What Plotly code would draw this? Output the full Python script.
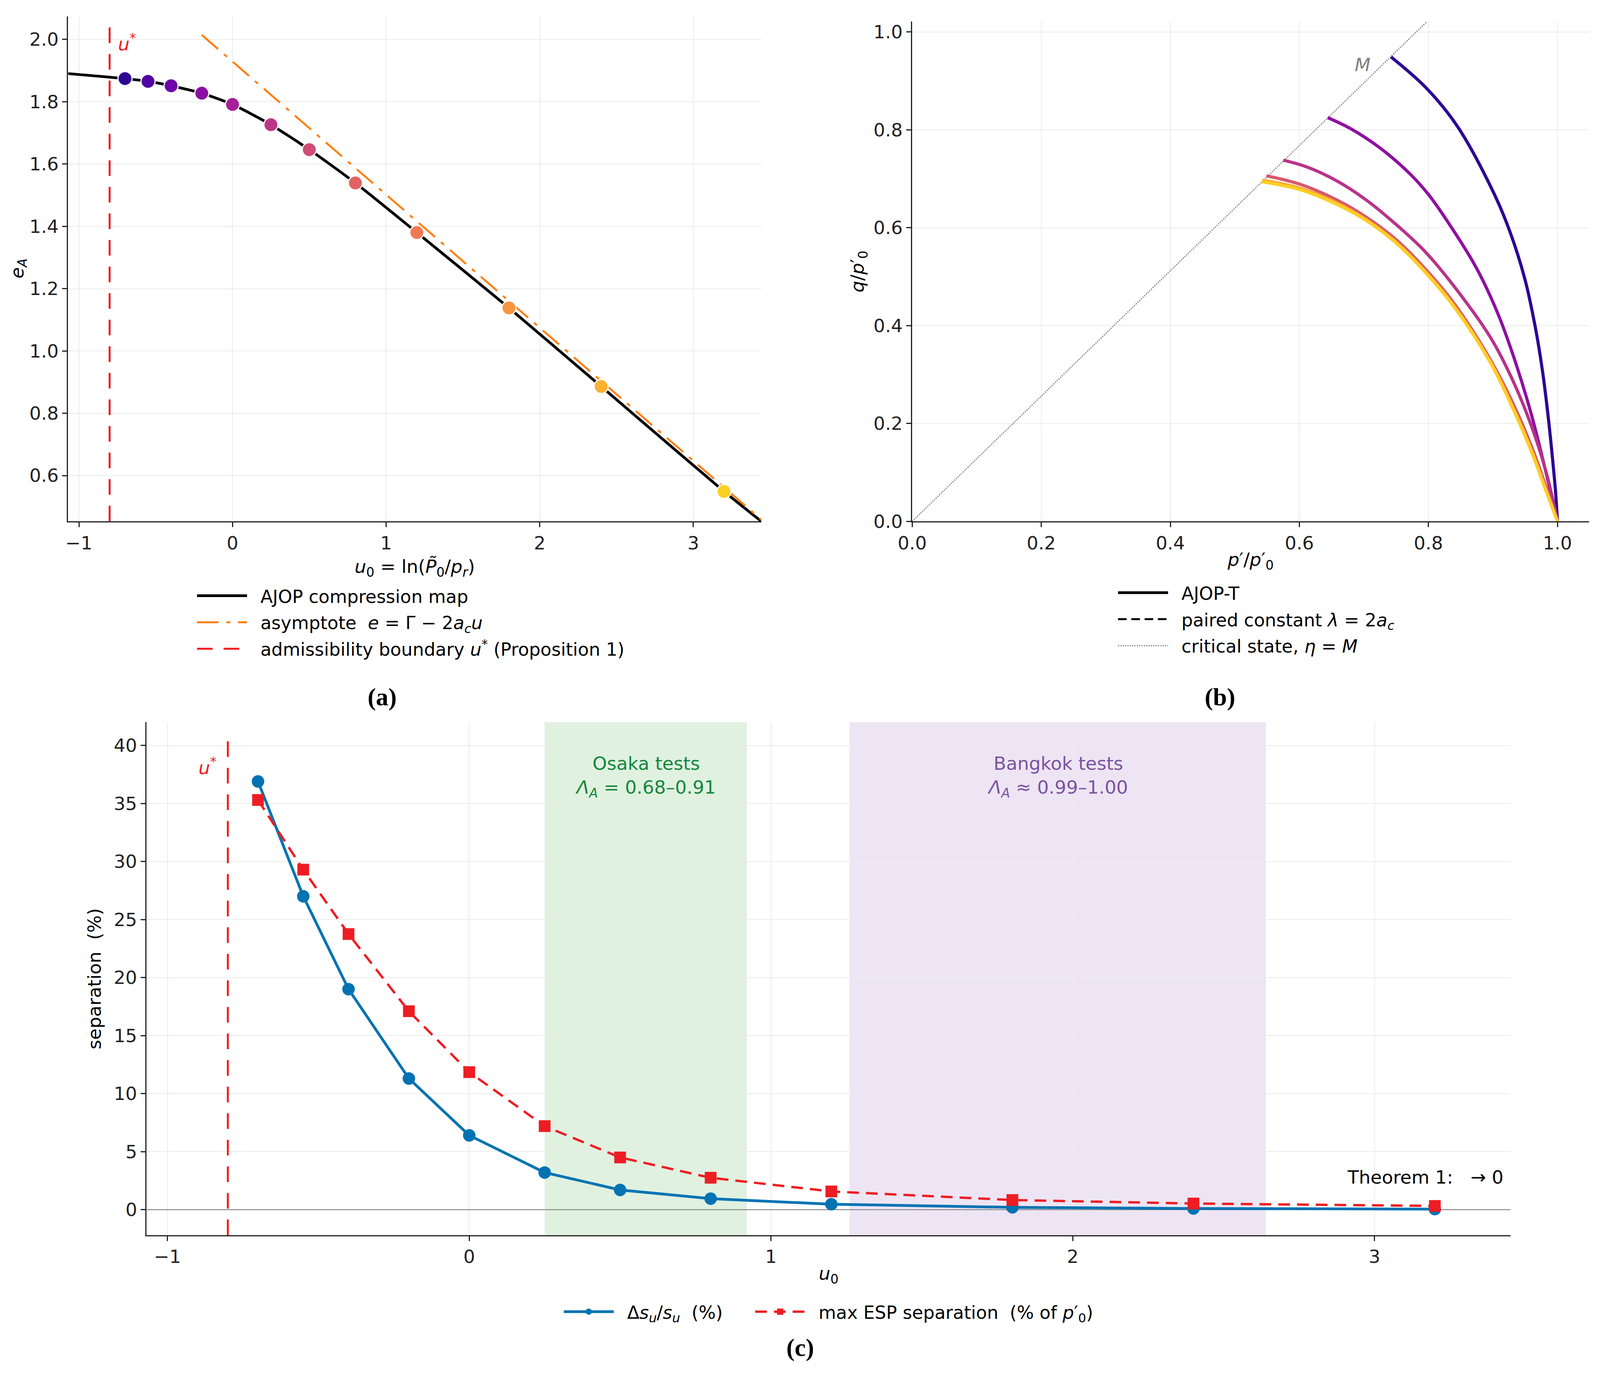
import numpy as np
import plotly.graph_objects as go
from plotly.colors import sample_colorscale

FONT = "DejaVu Sans"
W, H = 4168, 3570

# (a) compression map
U0 = [-0.7, -0.55, -0.4, -0.2, 0.0, 0.25, 0.5, 0.8, 1.2, 1.8, 2.4, 3.2]
E_A = [1.874, 1.865, 1.851, 1.827, 1.791, 1.726, 1.646, 1.539, 1.380, 1.138, 0.886, 0.549]
MAP_U = [-1.07] + U0 + [3.443]
MAP_E = [1.890] + E_A + [0.453]
ASYM_U = [-0.2, 3.5]
ASYM_E = [2.014, 0.434]
U_STAR = -0.8

# (b) stress paths and their colour levels on the plasma scale
CSL_P = [0.0, 0.8]
CSL_Q = [0.0, 1.024]
PATH_LEVEL = [0.06, 0.30, 0.43, 0.56, 0.80, 0.90]
GRID_P = [0.6007, 0.6576, 0.7032, 0.7487, 0.7943, 0.8399, 0.897, 0.9311, 0.9607, 0.9834, 1.0]
PATH_P = [
    [0.742, 0.797, 0.845, 0.9014, 0.9266, 0.9493, 0.9652, 0.9766, 0.9857, 0.9925, 0.997, 1.0],
    [0.644, 0.680, 0.726, 0.7715, 0.800, 0.8285, 0.8743, 0.9084, 0.9357, 0.9607, 0.9811, 1.0],
    [0.575, 0.612, 0.6576, 0.7032, 0.7487, 0.7943, 0.8399, 0.897, 0.9311, 0.9607, 0.9834, 1.0],
    [0.549] + GRID_P,
    [0.5426] + GRID_P,
    [0.541] + GRID_P,
]
PATH_Q = [
    [0.949, 0.885, 0.807, 0.6706, 0.591, 0.496, 0.400, 0.309, 0.213, 0.126, 0.061, 0.0],
    [0.825, 0.802, 0.762, 0.710, 0.668, 0.615, 0.518, 0.422, 0.322, 0.213, 0.106, 0.0],
    [0.738, 0.724, 0.696, 0.657, 0.608, 0.552, 0.480, 0.374, 0.287, 0.191, 0.096, 0.0],
    [0.706, 0.689, 0.657, 0.622, 0.577, 0.517, 0.445, 0.328, 0.241, 0.150, 0.066, 0.0],
    [0.697, 0.681, 0.651, 0.617, 0.572, 0.512, 0.440, 0.324, 0.233, 0.142, 0.060, 0.0],
    [0.694, 0.678, 0.648, 0.615, 0.570, 0.510, 0.438, 0.322, 0.230, 0.139, 0.058, 0.0],
]

# (c) separation vs u0
DSU = [36.9, 27.0, 19.0, 11.3, 6.4, 3.2, 1.7, 0.95, 0.47, 0.2, 0.1, 0.05]
ESP = [35.3, 29.3, 23.75, 17.1, 11.85, 7.2, 4.5, 2.75, 1.57, 0.83, 0.53, 0.32]
OSAKA = [0.25, 0.92]
BANGKOK = [1.26, 2.64]

DOT_COLORS = sample_colorscale("Plasma", list(np.linspace(0.06, 0.90, len(U0))))
PATH_COLORS = sample_colorscale("Plasma", PATH_LEVEL)
RED = "#ee1d23"
BLUE = "#0173b2"
NB = "\u00a0"


# page positions are given as pixels of a 1568 x 1343 sketch of the figure
def px(xd):
    return (xd - 1.2) / 1.0186 / 1568


def py(yd):
    return 1 - (yd - 1.8) / 1.0186 / 1343


fig = go.Figure()

# ---- panel a ----
fig.add_trace(go.Scatter(
    x=MAP_U, y=MAP_E, mode="lines", name=NB * 2 + "AJOP compression map",
    line=dict(color="black", width=7, shape="spline", smoothing=0.6),
    xaxis="x", yaxis="y", legend="legend", legendgroup="a1"))
fig.add_trace(go.Scatter(
    x=ASYM_U, y=ASYM_E, mode="lines",
    name=NB * 2 + "asymptote" + NB * 2 + "<i>e</i> = Γ − 2<i>a</i><sub><i>c</i></sub><i>u</i>",
    line=dict(color="#ff7f0e", width=5, dash="55px,20px,10px,20px"),
    xaxis="x", yaxis="y", legend="legend", legendgroup="a2"))
fig.add_trace(go.Scatter(
    x=[None], y=[None], mode="lines",
    name=NB * 2 + "admissibility boundary <i>u</i><sup>*</sup> (Proposition 1)",
    line=dict(color=RED, width=5, dash="40px,28px"),
    xaxis="x", yaxis="y", legend="legend", legendgroup="a3"))
fig.add_trace(go.Scatter(
    x=U0, y=E_A, mode="markers", showlegend=False,
    marker=dict(color=DOT_COLORS, size=36, line=dict(color="white", width=3)),
    xaxis="x", yaxis="y"))

# ---- panel b ----
fig.add_trace(go.Scatter(
    x=[None], y=[None], mode="lines", name=NB * 2 + "AJOP-T",
    line=dict(color="black", width=7), xaxis="x2", yaxis="y2",
    legend="legend2", legendgroup="b1"))
fig.add_trace(go.Scatter(
    x=[None], y=[None], mode="lines",
    name=NB * 2 + "paired constant <i>λ</i> = 2<i>a</i><sub><i>c</i></sub>",
    line=dict(color="black", width=5, dash="22px,12px"),
    xaxis="x2", yaxis="y2", legend="legend2", legendgroup="b2"))
fig.add_trace(go.Scatter(
    x=CSL_P, y=CSL_Q, mode="lines", name=NB * 2 + "critical state, <i>η</i> = <i>M</i>",
    line=dict(color="#808080", width=3, dash="dot"),
    xaxis="x2", yaxis="y2", legend="legend2", legendgroup="b3"))
for k in range(len(PATH_P)):
    fig.add_trace(go.Scatter(
        x=PATH_P[k], y=PATH_Q[k], mode="lines", showlegend=False,
        line=dict(color=PATH_COLORS[k], width=8, shape="spline", smoothing=1.0),
        xaxis="x2", yaxis="y2"))

# ---- panel c ----
fig.add_trace(go.Scatter(
    x=U0, y=DSU, mode="lines+markers",
    name=NB * 2 + "Δ<i>s</i><sub><i>u</i></sub>/<i>s</i><sub><i>u</i></sub>" + NB * 2 + "(%)" + NB * 5,
    line=dict(color=BLUE, width=7), marker=dict(symbol="circle", size=32, color=BLUE),
    xaxis="x3", yaxis="y3", legend="legend3"))
fig.add_trace(go.Scatter(
    x=U0, y=ESP, mode="lines+markers",
    name=NB * 2 + "max ESP separation" + NB * 2 + "(% of <i>p</i>′<sub>0</sub>)",
    line=dict(color=RED, width=6, dash="30px,18px"),
    marker=dict(symbol="square", size=30, color=RED),
    xaxis="x3", yaxis="y3", legend="legend3"))

# bands, reference lines
fig.add_shape(type="rect", x0=OSAKA[0], x1=OSAKA[1], y0=0, y1=1,
              xref="x3", yref="y3 domain", fillcolor="rgba(44,160,44,0.15)",
              line_width=0, layer="below")
fig.add_shape(type="rect", x0=BANGKOK[0], x1=BANGKOK[1], y0=0, y1=1,
              xref="x3", yref="y3 domain", fillcolor="rgba(148,103,189,0.17)",
              line_width=0, layer="below")
fig.add_shape(type="line", xref="x3", yref="y3", x0=-1.069, x1=3.451, y0=0, y1=0,
              line=dict(color="#8c8c8c", width=2.5), layer="between")
for xr, yr in [("x", "y domain"), ("x3", "y3 domain")]:
    fig.add_shape(type="line", xref=xr, yref=yr, x0=U_STAR, x1=U_STAR, y0=0, y1=0.98,
                  line=dict(color=RED, width=5, dash="40px,28px"))

ann_font = dict(family=FONT, size=47)
fig.add_annotation(x=U_STAR + 0.05, y=1.99, xref="x", yref="y", text="<i>u</i><sup>*</sup>",
                   showarrow=False, xanchor="left", yanchor="middle",
                   font=dict(ann_font, color=RED))
fig.add_annotation(x=U_STAR - 0.035, y=38.2, xref="x3", yref="y3", text="<i>u</i><sup>*</sup>",
                   showarrow=False, xanchor="right", yanchor="middle",
                   font=dict(ann_font, color=RED))
fig.add_annotation(x=0.698, y=0.933, xref="x2", yref="y2", text="<i>M</i>",
                   showarrow=False, font=dict(ann_font, color="#808080"))
fig.add_annotation(x=sum(OSAKA) / 2, y=39.45, xref="x3", yref="y3",
                   text="Osaka tests<br><i>Λ</i><sub><i>A</i></sub> = 0.68–0.91",
                   showarrow=False, xanchor="center", yanchor="top",
                   font=dict(ann_font, color="#12873a"))
fig.add_annotation(x=sum(BANGKOK) / 2, y=39.45, xref="x3", yref="y3",
                   text="Bangkok tests<br><i>Λ</i><sub><i>A</i></sub> ≈ 0.99–1.00",
                   showarrow=False, xanchor="center", yanchor="top",
                   font=dict(ann_font, color="#7b52a3"))
fig.add_annotation(x=3.43, y=2.8, xref="x3", yref="y3",
                   text="Theorem 1:" + NB * 3 + "→" + NB + "0",
                   showarrow=False, xanchor="right", yanchor="middle",
                   font=dict(ann_font, color="black"))
# y title of panel a, kept as an annotation so it is not clipped at the page edge
fig.add_annotation(x=px(16), y=py(262), xref="paper", yref="paper",
                   text="<i>e</i><sub><i>A</i></sub>", textangle=-90, showarrow=False,
                   xanchor="center", yanchor="middle",
                   font=dict(family=FONT, size=47, color="black"))

for lab, xd, yd in [("(a)", 373, 682), ("(b)", 1195, 682), ("(c)", 783, 1320)]:
    fig.add_annotation(x=px(xd), y=py(yd), xref="paper", yref="paper", text=f"<b>{lab}</b>",
                       showarrow=False, xanchor="center", yanchor="middle",
                       font=dict(family="Liberation Serif", size=64, color="black"))

axis_common = dict(
    showline=True, linecolor="#222222", linewidth=3, mirror=False,
    ticks="outside", ticklen=12, tickwidth=3, tickcolor="#222222",
    showgrid=True, gridcolor="#ebebeb", gridwidth=2, zeroline=False, automargin=False,
    tickfont=dict(family=FONT, size=47, color="#222222"),
)
title_font = dict(family=FONT, size=47, color="black")
leg_common = dict(orientation="v", xanchor="left", yanchor="top", bgcolor="rgba(0,0,0,0)",
                  font=dict(family=FONT, size=46), itemwidth=128, tracegroupgap=5)

fig.update_layout(
    width=W, height=H, margin=dict(l=0, r=0, t=0, b=0),
    paper_bgcolor="white", plot_bgcolor="white",
    font=dict(family=FONT, size=46, color="black"),
    xaxis=dict(axis_common, domain=[px(65), px(745)], anchor="y", range=[-1.07, 3.443],
               tickvals=[-1, 0, 1, 2, 3],
               title=dict(text="<i>u</i><sub>0</sub> = ln(<i>P̃</i><sub>0</sub>/<i>p</i><sub><i>r</i></sub>)",
                          font=title_font, standoff=18)),
    yaxis=dict(axis_common, domain=[py(510), py(15)], anchor="x", range=[0.453, 2.073],
               tick0=0, dtick=0.2, tickformat=".1f"),
    xaxis2=dict(axis_common, domain=[px(893), px(1557)], anchor="y2", range=[0, 1.049],
                tick0=0, dtick=0.2, tickformat=".1f",
                title=dict(text="<i>p</i>′/<i>p</i>′<sub>0</sub>", font=title_font, standoff=0)),
    yaxis2=dict(axis_common, domain=[py(510), py(20)], anchor="x2", range=[0, 1.021],
                tick0=0, dtick=0.2, tickformat=".1f",
                title=dict(text="<i>q</i>/<i>p</i>′<sub>0</sub>", font=title_font, standoff=10)),
    xaxis3=dict(axis_common, domain=[px(142), px(1480)], anchor="y3", range=[-1.069, 3.451],
                tickvals=[-1, 0, 1, 2, 3],
                title=dict(text="<i>u</i><sub>0</sub>", font=title_font, standoff=0)),
    yaxis3=dict(axis_common, domain=[py(1210), py(707)], anchor="x3", range=[-2.2, 42],
                tick0=0, dtick=5,
                title=dict(text="separation" + NB * 2 + "(%)", font=title_font, standoff=18)),
    legend=dict(leg_common, x=px(189.5), y=py(569)),
    legend2=dict(leg_common, x=px(1093), y=py(566)),
    legend3=dict(x=px(811), y=py(1285), xanchor="center", yanchor="middle", orientation="h",
                 bgcolor="rgba(0,0,0,0)", font=dict(family=FONT, size=46), itemwidth=128),
    showlegend=True,
)

fig.write_html("out.html")
